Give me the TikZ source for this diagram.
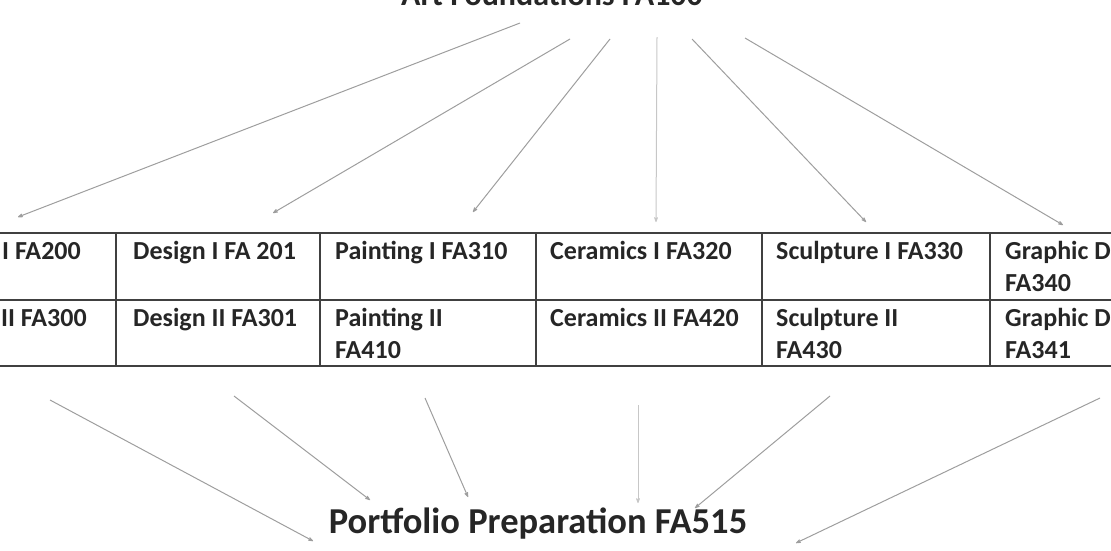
\documentclass[tikz,border=0pt]{standalone}
\usepackage{fontspec}
\setmainfont{Carlito}
\usetikzlibrary{arrows.meta, positioning}

\begin{document}
\begin{tikzpicture}[x=1pt,y=-1pt,>={Stealth[round,length=7pt,width=5pt]},
      every node/.style={text=black!85},
      cell/.style={anchor=base west,inner sep=0pt,align=left,
        font=\fontsize{26}{32.5}\selectfont\bfseries},
      head/.style={anchor=base,inner sep=0pt,font=\bfseries},
      rule/.style={draw=black!75,line width=2pt},
      link/.style={draw=black!38,line width=1pt},
      faint/.style={draw=black!22,line width=1pt}]
      \useasboundingbox (0,0) rectangle (1111,550);
      \clip (0,0) rectangle (1111,550);
      % titles
      \node[head,font=\fontsize{32}{38}\selectfont\bfseries] (fa100) at (552,5) {Art Foundations FA100};
      \node[head,font=\fontsize{36.5}{44}\selectfont\bfseries] (fa515) at (538,533) {Portfolio Preparation FA515};
      % table (two-line cells sit on their last baseline)
      \draw[rule] (0,233) -- (1111,233) (0,299.5) -- (1111,299.5) (0,366) -- (1111,366);
      \foreach \x in {116,320,536,762,990}
        \draw[rule] (\x,233) -- (\x,366);
      \node[cell] (c_1) at (2,259) {I FA200};
      \node[cell] (c_2) at (133,259) {Design I FA 201};
      \node[cell] (c_3) at (335,259) {Painting I FA310};
      \node[cell] (c_4) at (550,259) {Ceramics I FA320};
      \node[cell] (c_5) at (776,259) {Sculpture I FA330};
      \node[cell] (c_6) at (1005,291.5) {Graphic D\\FA340};
      \node[cell] (d_1) at (1,326) {II FA300};
      \node[cell] (d_2) at (133,326) {Design II FA301};
      \node[cell] (d_3) at (335,358.5) {Painting II\\FA410};
      \node[cell] (d_4) at (550,326) {Ceramics II FA420};
      \node[cell] (d_5) at (776,358.5) {Sculpture II\\FA430};
      \node[cell] (d_6) at (1005,358.5) {Graphic D\\FA341};
      % arrow ends
      \coordinate (s_1) at (520,23);  \coordinate (e_1) at (18,217);
      \coordinate (s_2) at (570,39);  \coordinate (e_2) at (273,213);
      \coordinate (s_3) at (610,39);  \coordinate (e_3) at (473,212);
      \coordinate (s_4) at (657,37);  \coordinate (e_4) at (656,222);
      \coordinate (s_5) at (692,39);  \coordinate (e_5) at (866,222);
      \coordinate (s_6) at (745,38);  \coordinate (e_6) at (1063,225);
      \coordinate (b_1) at (50,400);  \coordinate (f_1) at (313,541);
      \coordinate (b_2) at (234,396); \coordinate (f_2) at (370,500);
      \coordinate (b_3) at (425,398); \coordinate (f_3) at (468,497);
      \coordinate (b_4) at (638,405); \coordinate (f_4) at (638,503);
      \coordinate (b_5) at (830,396); \coordinate (f_5) at (695,508);
      \coordinate (b_6) at (1100,398); \coordinate (f_6) at (796,543);
      \path[->]
      (s_1) edge[link] (e_1)
      (s_2) edge[link] (e_2)
      (s_3) edge[link] (e_3)
      (s_4) edge[faint] (e_4)
      (s_5) edge[link] (e_5)
      (s_6) edge[link] (e_6)
      (b_1) edge[link] (f_1)
      (b_2) edge[link] (f_2)
      (b_3) edge[link] (f_3)
      (b_4) edge[faint] (f_4)
      (b_5) edge[link] (f_5)
      (b_6) edge[link] (f_6);
    \end{tikzpicture}
\end{document}
